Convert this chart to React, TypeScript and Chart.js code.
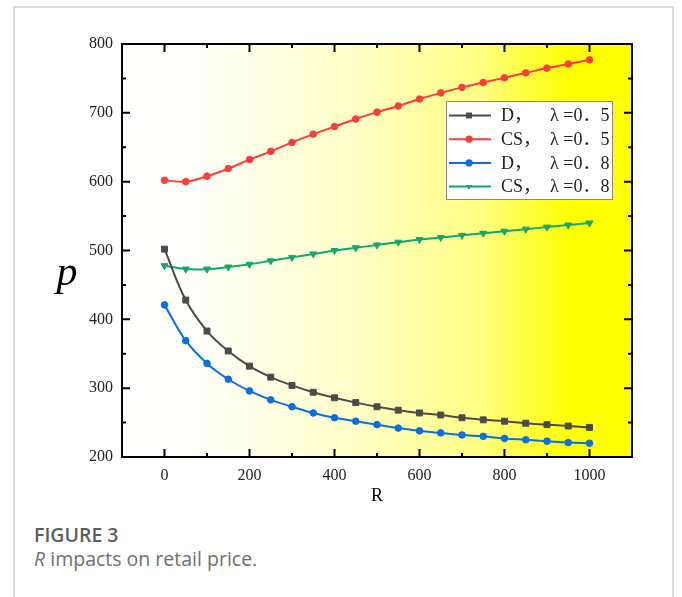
import React, { useEffect, useRef } from "react";
import { Chart, registerables } from "chart.js";

Chart.register(...registerables);

const rValues = [0, 50, 100, 150, 200, 250, 300, 350, 400, 450, 500, 550, 600, 650, 700, 750, 800, 850, 900, 950, 1000];

const dLambda05 = [502, 428, 383, 354, 332, 316, 304, 294, 286, 279, 273, 268, 264, 261, 257, 254, 252, 249, 247, 245, 243];
const csLambda05 = [602, 600, 608, 619, 632, 644, 657, 669, 680, 691, 701, 710, 720, 729, 737, 744, 751, 758, 765, 771, 777];
const dLambda08 = [421, 369, 336, 313, 296, 283, 273, 264, 257, 252, 247, 242, 238, 235, 232, 230, 227, 225, 223, 221, 220];
const csLambda08 = [478, 473, 473, 476, 480, 485, 490, 495, 500, 504, 508, 512, 516, 519, 522, 525, 528, 531, 534, 537, 540];

const seriesNames = ["D，", "CS，", "D，", "CS，"];
const seriesLambdas = ["λ =0．5", "λ =0．5", "λ =0．8", "λ =0．8"];

const xMajorTicks = [0, 200, 400, 600, 800, 1000];
const xMinorTicks = [100, 300, 500, 700, 900];
const yMajorTicks = [200, 300, 400, 500, 600, 700, 800];
const yMinorTicks = [250, 350, 450, 550, 650, 750];

const xTitle = "R";
const yTitle = "p";
const captionHead = "FIGURE 3";
const captionVar = "R";
const captionRest = " impacts on retail price.";

const SERIF = '"Liberation Serif", "Times New Roman", serif';
const LEGEND_FONT = '"Liberation Serif", "Noto Sans CJK SC", serif';

function drawMarker(ctx: CanvasRenderingContext2D, style: string, x: number, y: number, r: number, color: string) {
  ctx.fillStyle = color;
  ctx.beginPath();
  if (style === "rect") {
    const s = r * Math.SQRT1_2;
    ctx.rect(x - s, y - s, 2 * s, 2 * s);
  } else if (style === "triangleDown") {
    const h = r * 0.9;
    ctx.moveTo(x - r * 0.87, y - h * 0.5);
    ctx.lineTo(x + r * 0.87, y - h * 0.5);
    ctx.lineTo(x, y + h);
    ctx.closePath();
  } else {
    ctx.arc(x, y, r, 0, Math.PI * 2);
  }
  ctx.fill();
}

const bgPlugin = {
  id: "bgGradient",
  beforeDraw(chart: any) {
    const { ctx, chartArea } = chart;
    const { left, right, top, bottom } = chartArea;
    const g = ctx.createLinearGradient(left, 0, right, 0);
    g.addColorStop(0, "#ffffff");
    g.addColorStop(0.14, "#fffffc");
    g.addColorStop(0.45, "#ffffc8");
    g.addColorStop(0.7, "#ffff84");
    g.addColorStop(0.88, "#ffff00");
    g.addColorStop(1, "#ffff00");
    ctx.save();
    ctx.fillStyle = g;
    ctx.fillRect(left, top, right - left, bottom - top);
    ctx.restore();
  },
};

const framePlugin = {
  id: "frameTicks",
  beforeDatasetsDraw(chart: any) {
    const { ctx, chartArea, scales } = chart;
    const { left, right, top, bottom } = chartArea;
    ctx.save();
    ctx.strokeStyle = "#000";
    ctx.lineWidth = 2;
    ctx.strokeRect(left, top, right - left, bottom - top);
    const major = 8;
    const minor = 4;
    const xt = (v: number, len: number) => {
      const px = scales.x.getPixelForValue(v);
      ctx.beginPath();
      ctx.moveTo(px, bottom);
      ctx.lineTo(px, bottom - len);
      ctx.moveTo(px, top);
      ctx.lineTo(px, top + len);
      ctx.stroke();
    };
    const yt = (v: number, len: number) => {
      const py = scales.y.getPixelForValue(v);
      ctx.beginPath();
      ctx.moveTo(left, py);
      ctx.lineTo(left + len, py);
      ctx.moveTo(right, py);
      ctx.lineTo(right - len, py);
      ctx.stroke();
    };
    xMajorTicks.forEach((v) => xt(v, major));
    xMinorTicks.forEach((v) => xt(v, minor));
    yMajorTicks.forEach((v) => yt(v, major));
    yMinorTicks.forEach((v) => yt(v, minor));
    ctx.fillStyle = "#000";
    ctx.font = `italic 42px ${SERIF}`;
    ctx.textAlign = "center";
    ctx.textBaseline = "alphabetic";
    ctx.fillText(yTitle, 67, 285);
    ctx.restore();
  },
};

const legendPlugin = {
  id: "boxLegend",
  afterDatasetsDraw(chart: any) {
    const { ctx, chartArea } = chart;
    const w = 166;
    const h = 98;
    const left = chartArea.right - 186;
    const top = chartArea.top + 57;
    ctx.save();
    ctx.fillStyle = "#ffffff";
    ctx.fillRect(left, top, w, h);
    ctx.strokeStyle = "#8a8a8a";
    ctx.lineWidth = 1;
    ctx.strokeRect(left + 0.5, top + 0.5, w, h);
    chart.data.datasets.forEach((ds: any, i: number) => {
      const y = top + 14.5 + i * 23.7;
      ctx.strokeStyle = ds.borderColor;
      ctx.lineWidth = 2;
      ctx.beginPath();
      ctx.moveTo(left + 3, y);
      ctx.lineTo(left + 45, y);
      ctx.stroke();
      drawMarker(ctx, ds.legendMarker, left + 23, y, ds.legendMarker === "rect" ? 4.2 : 3.6, ds.borderColor);
      ctx.fillStyle = "#222";
      ctx.font = `18px ${LEGEND_FONT}`;
      ctx.textAlign = "left";
      ctx.textBaseline = "middle";
      ctx.fillText(seriesNames[i], left + 55, y + 1);
      ctx.fillText(seriesLambdas[i], left + 104, y + 1);
    });
    ctx.restore();
  },
};

export default function App() {
  const canvasRef = useRef<HTMLCanvasElement | null>(null);

  useEffect(() => {
    const canvas = canvasRef.current;
    if (!canvas) return;
    const mk = (vals: number[]) => rValues.map((x, i) => ({ x, y: vals[i] }));
    const common = {
      borderWidth: 2,
      tension: 0.4,
      pointBorderWidth: 1,
      fill: false,
    };
    const chart = new Chart(canvas, {
      type: "line",
      data: {
        datasets: [
          { ...common, label: seriesNames[0] + seriesLambdas[0], data: mk(dLambda05), borderColor: "#4b4b4b", backgroundColor: "#4b4b4b", pointStyle: "rect", pointRadius: 4.2, legendMarker: "rect" } as any,
          { ...common, label: seriesNames[1] + seriesLambdas[1], data: mk(csLambda05), borderColor: "#ff3b3b", backgroundColor: "#ff3b3b", pointStyle: "circle", pointRadius: 3.3, legendMarker: "circle" } as any,
          { ...common, label: seriesNames[2] + seriesLambdas[2], data: mk(dLambda08), borderColor: "#0a6fe2", backgroundColor: "#0a6fe2", pointStyle: "circle", pointRadius: 3.3, legendMarker: "circle" } as any,
          { ...common, label: seriesNames[3] + seriesLambdas[3], data: mk(csLambda08), borderColor: "#10a870", backgroundColor: "#10a870", pointStyle: "triangle", pointRotation: 180, pointRadius: 4, legendMarker: "triangleDown" } as any,
        ],
      },
      options: {
        animation: false,
        responsive: false,
        events: [],
        layout: { padding: { top: 44, right: 50, left: 0, bottom: 0 } },
        plugins: { legend: { display: false }, tooltip: { enabled: false } },
        scales: {
          x: {
            type: "linear",
            min: -100,
            max: 1100,
            afterBuildTicks: (scale: any) => {
              scale.ticks = xMajorTicks.map((v) => ({ value: v }));
            },
            afterFit: (scale: any) => {
              scale.height = 63;
            },
            grid: { display: false, drawTicks: false },
            border: { display: false },
            ticks: {
              padding: 9,
              color: "#222",
              font: { family: SERIF, size: 16 },
              maxRotation: 0,
              callback: (v: any) => String(v),
            },
            title: {
              display: true,
              text: xTitle,
              color: "#000",
              font: { family: SERIF, size: 18 },
              padding: { top: 0, bottom: 13 },
            },
          },
          y: {
            type: "linear",
            min: 200,
            max: 800,
            afterBuildTicks: (scale: any) => {
              scale.ticks = yMajorTicks.map((v) => ({ value: v }));
            },
            afterFit: (scale: any) => {
              scale.width = 122;
            },
            grid: { display: false, drawTicks: false },
            border: { display: false },
            ticks: {
              padding: 9,
              color: "#222",
              font: { family: SERIF, size: 16 },
              callback: (v: any) => String(v),
            },
          },
        },
      },
      plugins: [bgPlugin, framePlugin, legendPlugin],
    } as any);
    return () => chart.destroy();
  }, []);

  return (
    <div style={{ position: "fixed", left: 0, top: 0, width: 682, height: 597, background: "#fff", overflow: "hidden" }}>
      <div
        style={{
          position: "absolute",
          left: 13,
          top: 6,
          width: 657,
          height: 620,
          border: "2px solid #dedede",
          boxSizing: "content-box",
        }}
      />
      <canvas ref={canvasRef} width={682} height={520} style={{ position: "absolute", left: 0, top: 0, width: 682, height: 520 }} />
      <div
        style={{
          position: "absolute",
          left: 34,
          top: 523,
          fontFamily: "'Open Sans', Lato, sans-serif",
          fontWeight: 600,
          fontSize: 19.5,
          lineHeight: "24px",
          color: "#5e5e5e",
          whiteSpace: "nowrap",
        }}
      >
        {captionHead}
      </div>
      <div
        style={{
          position: "absolute",
          left: 34,
          top: 547,
          fontFamily: "'Open Sans', Lato, sans-serif",
          fontWeight: 400,
          fontSize: 19.5,
          lineHeight: "24px",
          color: "#707070",
          whiteSpace: "nowrap",
        }}
      >
        <i>{captionVar}</i>
        {captionRest}
      </div>
    </div>
  );
}
